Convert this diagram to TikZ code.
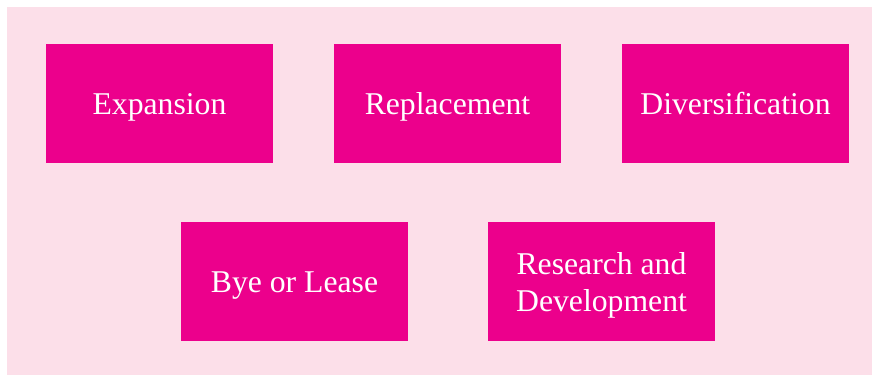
\documentclass[tikz,border=0pt]{standalone}
\usepackage{fontspec}
\setmainfont{Liberation Serif}
\definecolor{bgpink}{HTML}{FCDFE9}
\definecolor{boxpink}{HTML}{EC008C}
\begin{document}
\begin{tikzpicture}[x=1pt,y=-1pt,
  item/.style={fill=boxpink, draw=none, text=white, minimum width=227pt, minimum height=119pt,
    inner sep=0pt, align=center, text depth=0pt, font=\fontsize{31.7pt}{37pt}\selectfont},
  oneline/.style={item, text height=21pt}]
\useasboundingbox (0,0) rectangle (872,375);
\fill[bgpink] (7,7) rectangle (872,375);
\node[oneline] (exp) at (159.5,103.5) {Expansion};
\node[oneline] (rep) at (447.5,103.5) {Replacement};
\node[oneline] (div) at (735.5,103.5) {Diversification};
\node[oneline] (bye) at (294.5,281.5) {Bye or Lease};
\node[item] (rd) at (601.5,281.5) {Research and\\Development};
\end{tikzpicture}
\end{document}
